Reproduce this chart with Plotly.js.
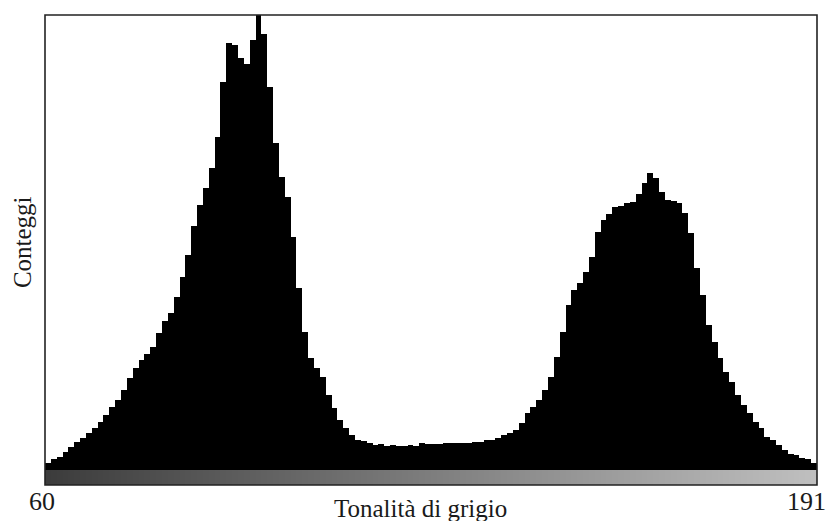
<!DOCTYPE html>
<html>
<head>
<meta charset="utf-8">
<script src="https://cdn.plot.ly/plotly-3.0.1.min.js"></script>
<style>
  html, body { margin: 0; padding: 0; background: #ffffff; }
  #chart { width: 832px; height: 521px; }
</style>
</head>
<body>
<div id="chart"></div>
<script>
// Grey levels of the histogram (one bin per level)
const grayLevels = [
  60, 61, 62, 63, 64, 65, 66, 67, 68, 69, 70, 71, 72, 73, 74, 75, 76, 77, 78, 79,
  80, 81, 82, 83, 84, 85, 86, 87, 88, 89, 90, 91, 92, 93, 94, 95, 96, 97, 98, 99,
  100, 101, 102, 103, 104, 105, 106, 107, 108, 109, 110, 111, 112, 113, 114, 115, 116, 117, 118, 119,
  120, 121, 122, 123, 124, 125, 126, 127, 128, 129, 130, 131, 132, 133, 134, 135, 136, 137, 138, 139,
  140, 141, 142, 143, 144, 145, 146, 147, 148, 149, 150, 151, 152, 153, 154, 155, 156, 157, 158, 159,
  160, 161, 162, 163, 164, 165, 166, 167, 168, 169, 170, 171, 172, 173, 174, 175, 176, 177, 178, 179,
  180, 181, 182, 183, 184, 185, 186, 187, 188, 189, 190, 191
];

// Pixel counts per grey level
const counts = [
  7, 11, 13, 18, 23, 28, 32, 37, 42, 48, 55, 63, 70, 80, 92, 102, 110, 116, 123, 137,
  149, 157, 173, 193, 215,
  244, 265, 282, 302, 333, 388, 427, 425, 412, 406, 430, 455, 436, 383, 327, 293, 273, 233, 182, 138,
  112, 102, 93, 75, 62, 50, 42, 35, 30,
  29, 27, 25, 26, 24, 25, 24, 24, 25, 24, 27, 26, 26, 26, 27, 27, 27, 27, 27, 28, 28, 30, 30, 32,
  35, 37, 40, 47, 57, 63, 70, 80, 93, 113, 138, 165, 180, 187, 198, 213, 238, 250, 256, 263,
  264, 267, 268, 276, 287, 297, 292, 278, 270, 269, 267, 257, 237, 202, 175, 145, 128, 112, 98, 88,
  75, 65, 57, 48, 42, 33, 30, 25, 20, 16, 15, 12, 11, 7
];

// Text
const endLabels = ['60', '191'];
const xTitle = 'Tonalità di grigio';
const yTitle = 'Conteggi';

const serif = '"Liberation Serif", "Times New Roman", Times, serif';
const textColor = '#1a1a1a';

const histogram = {
  type: 'bar',
  x: grayLevels,
  y: counts,
  xaxis: 'x',
  yaxis: 'y',
  marker: { color: '#000000', line: { width: 0 } },
  hoverinfo: 'x+y'
};

// Grey wedge under the histogram: each cell painted with its own grey level
const wedge = {
  type: 'heatmap',
  x: grayLevels,
  y: [0],
  z: [grayLevels],
  xaxis: 'x',
  yaxis: 'y2',
  zmin: grayLevels[0],
  zmax: grayLevels[grayLevels.length - 1],
  colorscale: [[0, 'rgb(60,60,60)'], [1, 'rgb(191,191,191)']],
  showscale: false,
  hoverinfo: 'skip'
};

const wedgeFrac = 15 / 470;

const layout = {
  width: 832,
  height: 521,
  margin: { l: 45, r: 15, t: 15, b: 36, pad: 0 },
  paper_bgcolor: '#ffffff',
  plot_bgcolor: '#ffffff',
  showlegend: false,
  bargap: 0,
  xaxis: {
    range: [grayLevels[0] - 0.5, grayLevels[grayLevels.length - 1] + 0.5],
    showgrid: false, zeroline: false, showticklabels: false, ticks: '',
    showline: false, fixedrange: true
  },
  yaxis: {
    domain: [wedgeFrac, 1],
    range: [0, 455],
    showgrid: false, zeroline: false, showticklabels: false, ticks: '',
    showline: false, fixedrange: true
  },
  yaxis2: {
    domain: [0, wedgeFrac],
    anchor: 'x',
    range: [-0.5, 0.5],
    showgrid: false, zeroline: false, showticklabels: false, ticks: '',
    showline: false, fixedrange: true
  },
  shapes: [
    {
      type: 'rect', xref: 'paper', yref: 'paper',
      x0: 0, x1: 1, y0: 0, y1: 1,
      line: { color: '#222222', width: 1.6 },
      fillcolor: 'rgba(0,0,0,0)',
      layer: 'above'
    }
  ],
  annotations: [
    {
      text: endLabels[0], xref: 'paper', yref: 'paper',
      x: -0.004, y: -0.036, xanchor: 'center', yanchor: 'middle',
      showarrow: false, font: { family: serif, size: 26, color: textColor }
    },
    {
      text: endLabels[1], xref: 'paper', yref: 'paper',
      x: 0.987, y: -0.036, xanchor: 'center', yanchor: 'middle',
      showarrow: false, font: { family: serif, size: 26, color: textColor }
    },
    {
      text: xTitle, xref: 'paper', yref: 'paper',
      x: 0.486, y: -0.05, xanchor: 'center', yanchor: 'middle',
      showarrow: false, font: { family: serif, size: 25, color: textColor }
    },
    {
      text: yTitle, xref: 'paper', yref: 'paper',
      x: -0.029, y: 0.516, xanchor: 'center', yanchor: 'middle',
      textangle: -90,
      showarrow: false, font: { family: serif, size: 25, color: textColor }
    }
  ]
};

Plotly.newPlot('chart', [histogram, wedge], layout, { displayModeBar: false, staticPlot: true });
</script>
</body>
</html>
